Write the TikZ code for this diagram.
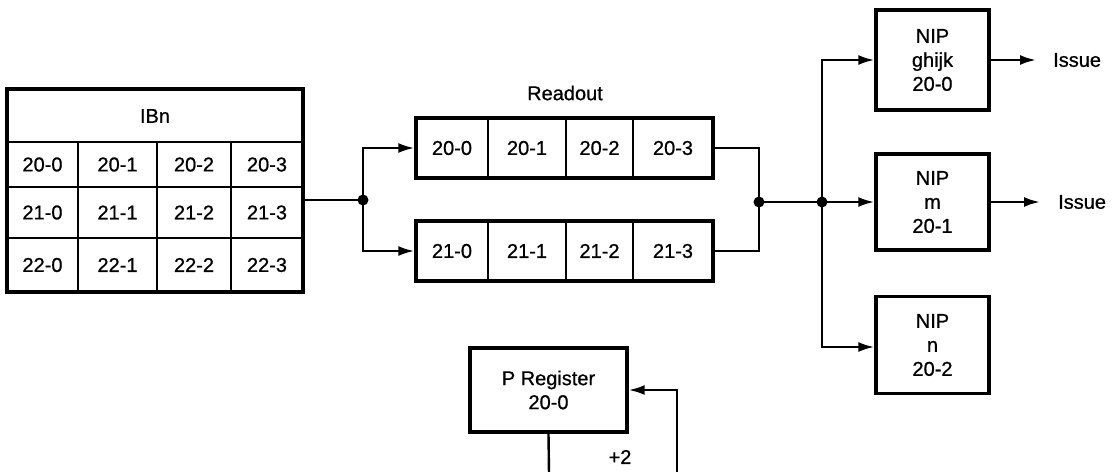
\documentclass[tikz,border=0pt]{standalone}
\usepackage{fontspec}
\setmainfont{Liberation Sans}[FakeBold=0.8,BoldFont=Liberation Sans]
\usetikzlibrary{arrows.meta,calc}
\begin{document}
\begin{tikzpicture}[x=1pt,y=-1pt,
  txt/.style={font=\fontsize{20}{24}\selectfont\bfseries},
  box/.style={draw,line width=3.4pt,inner sep=0pt,align=center,txt},
  cell/.style={draw,line width=2.4pt,inner sep=0pt,txt},
  lbl/.style={txt,inner sep=0pt,align=center},
  conn/.style={line width=2.4pt},
  arr/.style={conn,-{Latex[length=16pt,width=10pt]}},
  jdot/.style={circle,fill,inner sep=0pt,minimum size=11pt}]
\useasboundingbox (0,0) rectangle (1113,471);

% IBn table
\foreach \r/\yc/\h in {20/164.5/45,21/212.5/51,22/265/54}
  \foreach \c/\xc/\w in {0/42.5/71,1/117.5/79,2/194/74,3/267/72}
    \node[cell,minimum width=\w pt,minimum height=\h pt] (ib\r\c) at (\xc,\yc) {\r-\c};
\node[box,minimum width=296pt,minimum height=203pt] (ibn) at (155,190.5) {};
\node[lbl] (ibnl) at (155,116) {IBn};

% Readout
\node[lbl] (rol) at (565,93) {Readout};
\foreach \r/\yc/\k in {20/148/0,21/251/1}
  \foreach \c/\xc/\w in {0/452/72,1/527/78,2/599.5/67,3/673/80}
    \node[cell,minimum width=\w pt,minimum height=60pt] (ro\r\c) at (\xc,\yc) {\r-\c};
\node[box,minimum width=297pt,minimum height=60pt] (ro0) at (564.5,148) {};
\node[box,minimum width=297pt,minimum height=60pt] (ro1) at (564.5,251) {};

% NIP boxes
\node[box,minimum width=113pt,minimum height=100pt] (nip0) at (932.5,60) {NIP\\ghijk\\20-0};
\node[box,minimum width=113pt,minimum height=96pt] (nip1) at (932.5,202) {NIP\\m\\20-1};
\node[box,minimum width=113pt,minimum height=97pt] (nip2) at (932.5,345) {NIP\\n\\20-2};
\node[lbl,anchor=west] (is0) at (1053,60) {Issue};
\node[lbl,anchor=west] (is1) at (1058,202) {Issue};

% P register
\node[box,minimum width=157pt,minimum height=84pt] (preg) at (548.5,390) {P Register\\20-0};
\node[lbl] (plus) at (620,457) {+2};

% junctions
\coordinate (j1) at (363,200);
\coordinate (j2) at (759,202);
\coordinate (j3) at (822,202);
\coordinate (pb) at (549,475);
\coordinate (pr) at (677,475);

% connectors
\draw[conn] (ibn.east |- j1) -- (j1);
\draw[arr] (j1) |- (ro0.west);
\draw[arr] (j1) |- (ro1.west);
\draw[conn] (ro0.east) -| (j2) |- (ro1.east);
\draw[conn] (j2) -- (j3);
\draw[arr] (j3) -- (nip1.west |- j3);
\draw[arr] (j3) |- (nip0.west);
\draw[arr] (j3) |- ($(nip2.west)+(0,2)$);
\draw[arr,shorten >=17pt] (nip0.east) -- (is0.west);
\draw[arr,shorten >=18pt] (nip1.east) -- (is1.west);
\draw[conn] (preg.south) -- (pb);
\draw[arr] (pr) |- (preg.east);

\node[jdot] (d1) at (j1) {};
\node[jdot] (d2) at (j2) {};
\node[jdot] (d3) at (j3) {};
\end{tikzpicture}
\end{document}
